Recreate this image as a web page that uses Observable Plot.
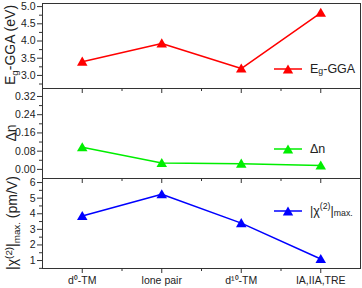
<!DOCTYPE html>
<html><head><meta charset="utf-8">
<script src="https://cdn.jsdelivr.net/npm/d3@7"></script>
<script src="https://cdn.jsdelivr.net/npm/@observablehq/plot@0.6"></script>
<style>
body{margin:0;background:#fff;font-family:"Liberation Sans",Arial,sans-serif;}
#chart{position:relative;width:362px;height:288px;overflow:hidden;background:#fff;}
#chart > div.p{position:absolute;left:0;}
.ylab{position:absolute;transform:translate(-50%,-50%) rotate(-90deg);white-space:nowrap;font-size:14px;color:#222;line-height:1;}
.sb{position:relative;top:0.3em;font-size:70%;}
.sp{position:relative;top:-0.5em;font-size:70%;}
.leg{position:absolute;display:flex;align-items:center;font-size:12.5px;color:#222;white-space:nowrap;line-height:1;}
.leg svg{margin-right:8px;}
</style></head>
<body><div id="chart"></div>
<script>
const categories = ["d⁰-TM", "lone pair", "d¹⁰-TM", "IA,IIA,TRE"];
const egGGA = [3.40, 3.93, 3.20, 4.82];
const deltaN = [0.097, 0.028, 0.025, 0.017];
const chiMax = [3.85, 5.25, 3.40, 1.10];

const egTicks = [3.0, 3.5, 4.0, 4.5, 5.0];
const egMinor = [2.75, 3.25, 3.75, 4.25, 4.75];
const dnTicks = [0.00, 0.08, 0.16, 0.24, 0.32];
const dnMinor = [0.04, 0.12, 0.20, 0.28];
const chiTicks = [1, 2, 3, 4, 5, 6];
const chiMinor = [0.5, 1.5, 2.5, 3.5, 4.5, 5.5];

const chart = document.getElementById("chart");

function panel({values, color, domain, major, minor, fmt, height, mt, mb, labels}) {
  const data = values.map((v, i) => ({i, v}));
  return Plot.plot({
    width: 362, height,
    marginLeft: 42, marginRight: 2, marginTop: mt, marginBottom: mb,
    style: {background: "transparent", fontFamily: "'Liberation Sans', Arial, sans-serif", fontSize: "10.5px", color: "#222", overflow: "visible"},
    x: {domain: [-0.5, 3.5]},
    y: {domain},
    marks: [
      Plot.frame({stroke: "#333", strokeWidth: 1}),
      Plot.axisY({ticks: major, tickSize: 5, tickPadding: 2, tickFormat: fmt, label: null, stroke: "#333", strokeOpacity: 1}),
      Plot.axisY({ticks: minor, tickSize: 3, tickFormat: () => "", label: null, stroke: "#333", strokeOpacity: 1}),
      Plot.axisX({ticks: [0, 1, 2, 3], tickSize: 5, tickPadding: 3, tickFormat: labels ? (d => categories[d]) : (() => ""), label: null, stroke: "#333", strokeOpacity: 1}),
      Plot.axisX({ticks: [0.5, 1.5, 2.5], tickSize: 3, tickFormat: () => "", label: null, stroke: "#333", strokeOpacity: 1}),
      Plot.line(data, {x: "i", y: "v", stroke: color, strokeWidth: 1.5}),
      Plot.dot(data, {x: "i", y: "v", symbol: "triangle", r: 3.9, fill: color, stroke: "none", dy: 1})
    ]
  });
}

const panels = [
  {top: 0, opts: {values: egGGA, color: "#ff0000", domain: [2.62, 5.09], major: egTicks, minor: egMinor, fmt: d3.format(".1f"), height: 93, mt: 3, mb: 5}},
  {top: 88, opts: {values: deltaN, color: "#00ee00", domain: [-0.04, 0.355], major: dnTicks, minor: dnMinor, fmt: d3.format(".2f"), height: 95, mt: 0, mb: 5}},
  {top: 178, opts: {values: chiMax, color: "#0000ff", domain: [0.49, 6.26], major: chiTicks, minor: chiMinor, fmt: d3.format("d"), height: 110, mt: 0, mb: 20, labels: true}}
];
for (const p of panels) {
  const d = document.createElement("div");
  d.className = "p";
  d.style.top = p.top + "px";
  d.appendChild(panel(p.opts));
  chart.appendChild(d);
}

function addYLabel(html, cx, cy) {
  const d = document.createElement("div");
  d.className = "ylab";
  d.style.left = cx + "px";
  d.style.top = cy + "px";
  d.innerHTML = html;
  chart.appendChild(d);
}
addYLabel("E<span class='sb'>g</span>-GGA (eV)", 10, 45);
addYLabel("Δn", 11, 133);
addYLabel("|χ<span class='sp'>(2)</span>|<span class='sb'>max.</span> (pm/V)", 12, 223);

function addLegend(html, color, x, y) {
  const d = document.createElement("div");
  d.className = "leg";
  d.style.left = x + "px";
  d.style.top = (y - 7) + "px";
  d.innerHTML = `<svg width="28" height="14"><line x1="0" y1="7" x2="28" y2="7" stroke="${color}" stroke-width="1.5"/><path d="M14,2.5 L19.2,11.5 L8.8,11.5 Z" fill="${color}"/></svg>` + html;
  chart.appendChild(d);
}
addLegend("E<span class='sb'>g</span>-GGA", "#ff0000", 274, 69);
addLegend("Δn", "#00ee00", 274, 149);
addLegend("|χ<span class='sp'>(2)</span>|<span class='sb'>max.</span>", "#0000ff", 274, 211);
</script></body></html>
